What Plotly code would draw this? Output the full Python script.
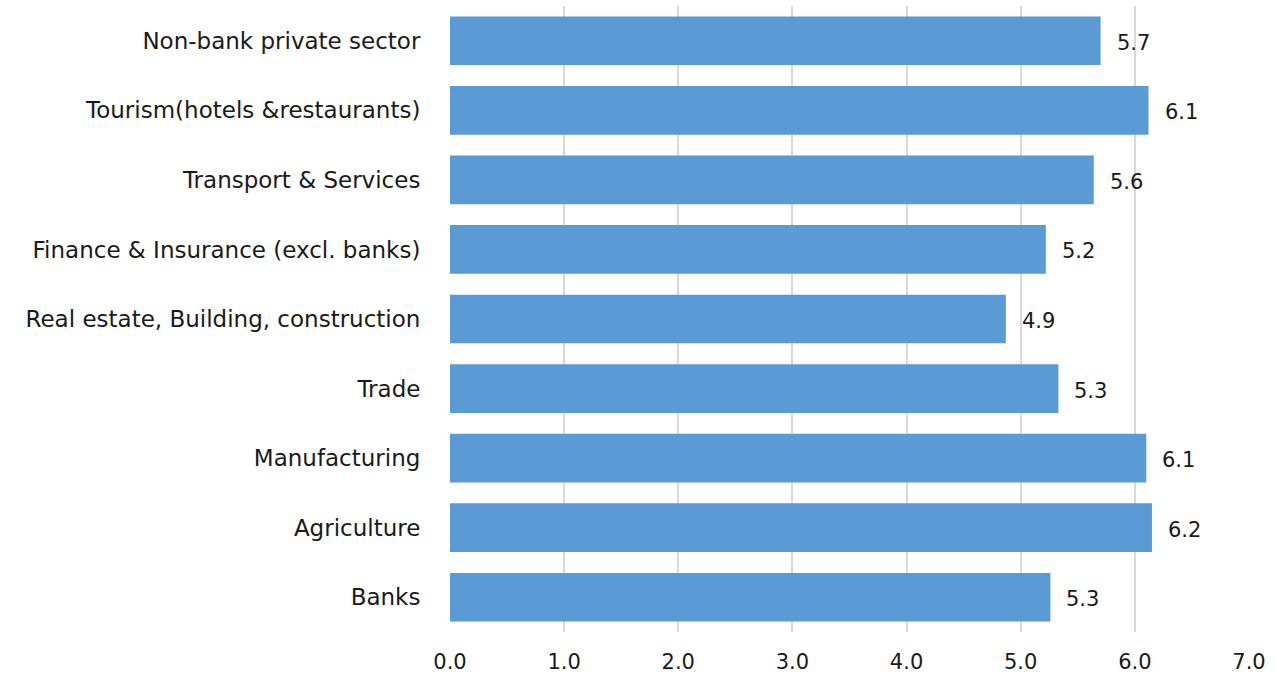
import plotly.graph_objects as go

# Sector categories, listed top to bottom
sectors = [
    "Non-bank private sector",
    "Tourism(hotels &restaurants)",
    "Transport & Services",
    "Finance & Insurance (excl. banks)",
    "Real estate, Building, construction",
    "Trade",
    "Manufacturing",
    "Agriculture",
    "Banks",
]
values = [5.70, 6.12, 5.64, 5.22, 4.87, 5.33, 6.10, 6.15, 5.26]

x_ticks = [0, 1, 2, 3, 4, 5, 6, 7]
x_tick_labels = ["0.0", "1.0", "2.0", "3.0", "4.0", "5.0", "6.0", "7.0"]

FONT = "DejaVu Sans"
NUM_SIZE = 21
CAT_SIZE = 23
TEXT_COLOR = "#1a1a1a"
BAR_COLOR = "#5b9bd5"

fig = go.Figure(
    go.Bar(
        x=values,
        y=sectors,
        orientation="h",
        marker=dict(color=BAR_COLOR, line=dict(width=0)),
        hoverinfo="x+y",
    )
)

# Value labels just to the right of each bar
for s, v in zip(sectors, values):
    fig.add_annotation(
        x=v, y=s, text=f"{v:.1f}", showarrow=False,
        xanchor="left", yanchor="middle", xshift=14, yshift=-2,
        font=dict(family=FONT, size=NUM_SIZE, color=TEXT_COLOR),
    )

fig.update_layout(
    width=1277, height=675,
    margin=dict(l=450, r=28, t=6, b=43, autoexpand=False),
    paper_bgcolor="white", plot_bgcolor="white",
    bargap=0.3,
    showlegend=False,
    font=dict(family=FONT, size=NUM_SIZE, color=TEXT_COLOR),
)
fig.update_xaxes(
    range=[0, 7],
    tickvals=x_ticks, ticktext=x_tick_labels,
    showgrid=True, gridcolor="#d9d9d9", gridwidth=2,
    zeroline=False, showline=False,
    ticks="outside", ticklen=11, tickcolor="rgba(0,0,0,0)",
    automargin=False,
    tickfont=dict(family=FONT, size=NUM_SIZE, color=TEXT_COLOR),
)
fig.update_yaxes(
    categoryorder="array", categoryarray=sectors,
    autorange="reversed",
    showgrid=False, zeroline=False, showline=False,
    ticks="outside", ticklen=24, tickcolor="rgba(0,0,0,0)",
    automargin=False,
    tickfont=dict(family=FONT, size=CAT_SIZE, color=TEXT_COLOR),
)

fig.write_html("out.html")
